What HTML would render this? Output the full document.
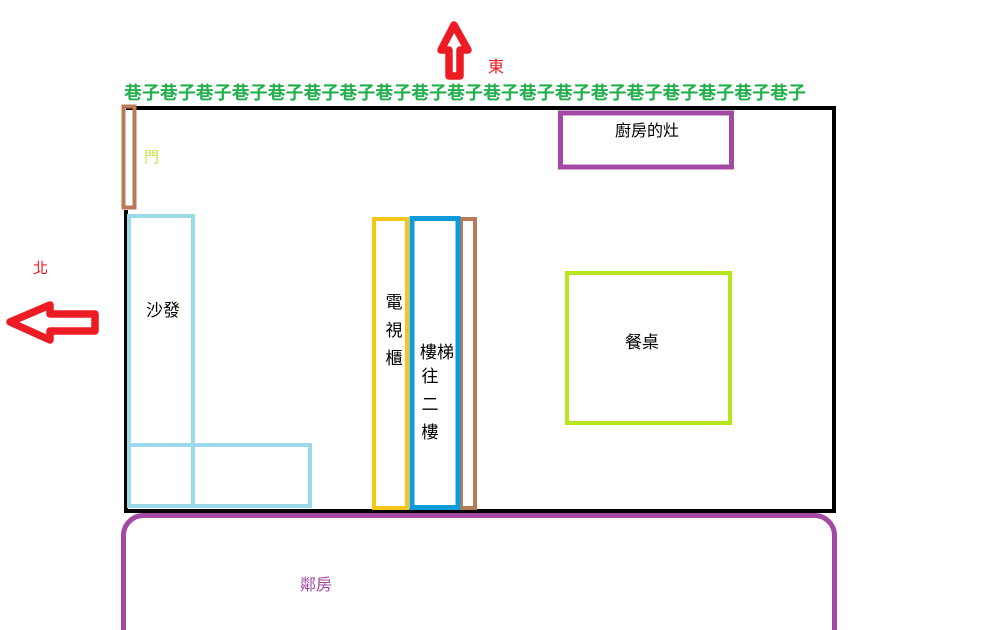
<!DOCTYPE html>
<html><head><meta charset="utf-8"><style>
html,body{margin:0;padding:0;background:#fff;}
svg{display:block}
text{font-family:"Liberation Sans","Noto Sans CJK TC",sans-serif;}
</style></head><body>
<svg width="1008" height="630" viewBox="0 0 1008 630" xmlns="http://www.w3.org/2000/svg">
<rect width="1008" height="630" fill="#fff"/>
<!-- up arrow -->
<polygon points="454,25 441,50 449,50 449,76 460,76 460,50 468,50" fill="none" stroke="#ed1c24" stroke-width="7.5" stroke-linejoin="round"/>
<text x="488" y="72" font-size="16" fill="#ed1c24">東</text>
<!-- left arrow -->
<polygon points="10,322 50,305 50,314 95,314 95,331 50,331 50,340" fill="none" stroke="#ed1c24" stroke-width="7.5" stroke-linejoin="round"/>
<text x="33" y="273" font-size="15" fill="#ed1c24">北</text>
<!-- street -->
<text x="124" y="99" font-size="18" font-weight="bold" fill="#22b14c" textLength="682" lengthAdjust="spacingAndGlyphs">巷子巷子巷子巷子巷子巷子巷子巷子巷子巷子巷子巷子巷子巷子巷子巷子巷子巷子巷子</text>
<!-- house outline -->
<polyline points="126,108 834,108 834,511 126,511 126,210" fill="none" stroke="#000" stroke-width="4"/>
<!-- door -->
<rect x="123.5" y="106.5" width="11" height="101" fill="none" stroke="#b97a57" stroke-width="4"/>
<text x="144" y="162" font-size="15" fill="#c8e34a">門</text>
<!-- kitchen -->
<rect x="560.5" y="113" width="171" height="54" fill="none" stroke="#a349a4" stroke-width="5"/>
<text x="647" y="136" font-size="16" fill="#000" text-anchor="middle">廚房的灶</text>
<!-- sofa -->
<rect x="129" y="216" width="64" height="290" fill="none" stroke="#99d9ea" stroke-width="4"/>
<rect x="129" y="445" width="181" height="61" fill="none" stroke="#99d9ea" stroke-width="4"/>
<text x="163" y="316" font-size="17" fill="#000" text-anchor="middle">沙發</text>
<!-- tv cabinet -->
<rect x="374" y="219" width="33" height="289" fill="none" stroke="#f5c518" stroke-width="4"/>
<text x="394" y="308" font-size="17" fill="#000" text-anchor="middle">電</text>
<text x="394" y="336" font-size="17" fill="#000" text-anchor="middle">視</text>
<text x="394" y="364" font-size="17" fill="#000" text-anchor="middle">櫃</text>
<!-- stairs -->
<rect x="461" y="219" width="14" height="289" fill="none" stroke="#b97a57" stroke-width="4"/>
<rect x="412" y="218.5" width="46" height="289" fill="none" stroke="#0f9ad8" stroke-width="5"/>
<text x="437" y="358" font-size="17" fill="#000" text-anchor="middle">樓梯</text>
<text x="430" y="382" font-size="17" fill="#000" text-anchor="middle">往</text>
<text x="430" y="410" font-size="17" fill="#000" text-anchor="middle">二</text>
<text x="430" y="438" font-size="17" fill="#000" text-anchor="middle">樓</text>
<!-- table -->
<rect x="567" y="273" width="163" height="150" fill="none" stroke="#b5e61d" stroke-width="4"/>
<text x="642" y="348" font-size="17" fill="#000" text-anchor="middle">餐桌</text>
<!-- neighbor -->
<rect x="123.5" y="515.5" width="711" height="140" rx="20" ry="20" fill="none" stroke="#a349a4" stroke-width="5"/>
<text x="316" y="590" font-size="16" fill="#a349a4" text-anchor="middle">鄰房</text>
</svg>
</body></html>
